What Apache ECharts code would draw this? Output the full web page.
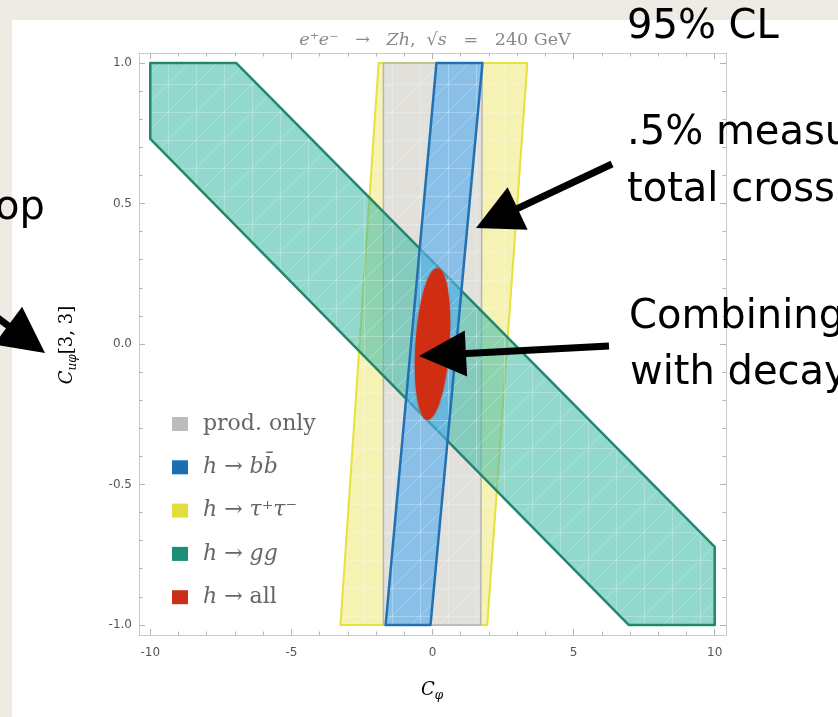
<!DOCTYPE html>
<html>
<head>
<meta charset="utf-8">
<script src="https://cdn.jsdelivr.net/npm/echarts@6/dist/echarts.min.js"></script>
<style>
  html, body { margin: 0; padding: 0; background: #fff; }
  #chart { width: 838px; height: 717px; }
</style>
</head>
<body>
<div id="chart"></div>
<script>
// Tick positions
const xMajorTicks = [-10, -5, 0, 5, 10];
const xMinorTicks = [-10, -9, -8, -7, -6, -5, -4, -3, -2, -1, 0, 1, 2, 3, 4, 5, 6, 7, 8, 9, 10];
const yMajorTicks = [-1.0, -0.5, 0.0, 0.5, 1.0];
const yMinorTicks = [-1.0, -0.9, -0.8, -0.7, -0.6, -0.5, -0.4, -0.3, -0.2, -0.1, 0.0,
                     0.1, 0.2, 0.3, 0.4, 0.5, 0.6, 0.7, 0.8, 0.9, 1.0];

// 95% CL regions in the (C_phi, C_uphi[3,3]) plane, vertices as [C_phi, C_uphi]
const prodOnly = [[-1.74, 1.0], [1.76, 1.0], [1.71, -1.0], [-1.74, -1.0]];
const hTauTau  = [[-1.91, 1.0], [3.36, 1.0], [1.94, -1.0], [-3.26, -1.0]];
const hBB      = [[0.14, 1.0], [1.77, 1.0], [-0.07, -1.0], [-1.66, -1.0]];
const hGG      = [[-10.0, 1.0], [-6.95, 1.0], [10.0, -0.722], [10.0, -1.0], [6.95, -1.0], [-10.0, 0.73]];
// combined fit: centre C_phi, centre C_uphi, half-width in C_phi, half-height in C_uphi, major-axis slope dC_phi/dC_uphi
const hAll     = [[0.0, 0.0, 0.6, 0.27, 0.66]];

const legendNames = ['prod. only', 'h → bb̄', 'h → τ⁺τ⁻', 'h → gg', 'h → all'];

const chart = echarts.init(document.getElementById('chart'), null, { renderer: 'canvas' });

const serif = '"DejaVu Serif", "Liberation Serif", serif';
const sans = '"DejaVu Sans", "Liberation Sans", sans-serif';
const frameColor = '#cacaca';
const tickColor = '#b4b4b4';

// Region fill: translucent base colour with the faint white triangulation mesh of the plotted regions
function meshFill(base) {
  const s = 28;
  const cv = document.createElement('canvas');
  cv.width = s; cv.height = s;
  const g = cv.getContext('2d');
  g.fillStyle = base;
  g.fillRect(0, 0, s, s);
  g.strokeStyle = 'rgba(255,255,255,0.24)';
  g.lineWidth = 1;
  g.beginPath();
  g.moveTo(0, s); g.lineTo(s, 0);
  g.moveTo(0, 0.5); g.lineTo(s, 0.5);
  g.moveTo(0.5, 0); g.lineTo(0.5, s);
  g.stroke();
  return { image: cv, repeat: 'repeat' };
}

function regionSeries(name, vertices, fill, stroke, lineWidth, swatch, z) {
  const pattern = meshFill(fill);
  return {
    type: 'custom',
    name: name,
    coordinateSystem: 'cartesian2d',
    xAxisIndex: 0,
    yAxisIndex: 0,
    z: z,
    silent: true,
    itemStyle: { color: swatch },
    encode: { x: 0, y: 1 },
    data: vertices,
    renderItem: function (params, api) {
      if (params.dataIndex !== 0) return null;
      return {
        type: 'polygon',
        shape: { points: vertices.map(function (v) { return api.coord(v); }) },
        style: { fill: pattern, stroke: stroke, lineWidth: lineWidth, lineJoin: 'round' }
      };
    }
  };
}

function ellipseSeries(name, data, fill, swatch, z) {
  return {
    type: 'custom',
    name: name,
    coordinateSystem: 'cartesian2d',
    xAxisIndex: 0,
    yAxisIndex: 0,
    z: z,
    silent: true,
    itemStyle: { color: swatch },
    encode: { x: 0, y: 1 },
    data: data,
    renderItem: function (params, api) {
      const c = api.coord([api.value(0), api.value(1)]);
      const r = api.size([api.value(2), api.value(3)]);
      const t = api.size([api.value(4), 1]);
      const ang = Math.atan2(t[0], t[1]);
      return {
        type: 'ellipse',
        x: c[0], y: c[1],
        rotation: -ang,
        shape: { cx: 0, cy: 0, rx: r[0], ry: r[1] },
        style: { fill: fill, shadowBlur: 2, shadowColor: fill }
      };
    }
  };
}

function valueAxis(position, ticks, tickLen, withLabels, showLine, isX) {
  const ax = {
    type: 'value',
    position: position,
    min: isX ? -10.4 : -1.036,
    max: isX ? 10.4 : 1.036,
    axisLine: { show: showLine, onZero: false, lineStyle: { color: frameColor, width: 1 } },
    axisTick: { show: true, inside: true, length: tickLen, customValues: ticks,
                lineStyle: { color: tickColor, width: 1 } },
    axisLabel: { show: withLabels },
    splitLine: { show: false },
    minorTick: { show: false }
  };
  if (withLabels) {
    ax.axisLabel = {
      show: true,
      customValues: ticks,
      color: '#555',
      fontFamily: sans,
      fontSize: 12,
      margin: isX ? 12 : 7,
      formatter: function (v) { return isX ? String(v) : v.toFixed(1); }
    };
  }
  return ax;
}

function arrow(tail, tip, headLen, headWidth) {
  const dx = tip[0] - tail[0], dy = tip[1] - tail[1];
  const L = Math.hypot(dx, dy);
  const ux = dx / L, uy = dy / L, px = -uy, py = ux;
  const bx = tip[0] - ux * headLen, by = tip[1] - uy * headLen;
  return [
    { type: 'line', z: 100,
      shape: { x1: tail[0], y1: tail[1], x2: bx + ux * 4, y2: by + uy * 4 },
      style: { stroke: '#000', lineWidth: 7 } },
    { type: 'polygon', z: 100,
      shape: { points: [tip, [bx + px * headWidth / 2, by + py * headWidth / 2],
                             [bx - px * headWidth / 2, by - py * headWidth / 2]] },
      style: { fill: '#000' } }
  ];
}

function slideText(str, x, y) {
  return { type: 'text', x: x, y: y, z: 100,
           style: { text: str, font: '40px "DejaVu Sans", sans-serif', fill: '#000',
                    align: 'left', verticalAlign: 'middle' } };
}

const legendRich = {
  n: { fontFamily: serif, fontSize: 22, fontWeight: 'normal', color: '#666' },
  i: { fontFamily: serif, fontSize: 22, fontWeight: 'normal', fontStyle: 'italic', color: '#666' }
};
const legendLabels = {
  'prod. only': '{n|prod. only}',
  'h → bb̄': '{i|h}{n| → }{i|bb̄}',
  'h → τ⁺τ⁻': '{i|h}{n| → }{i|τ⁺τ⁻}',
  'h → gg': '{i|h}{n| → }{i|gg}',
  'h → all': '{i|h}{n| → all}'
};
const swatches = ['#bcbcbc', '#1b6eb0', '#e2df3c', '#1a8f78', '#c9301a'];

const option = {
  backgroundColor: '#ffffff',
  animation: false,
  title: {
    text: '{i|e}{n|⁺}{i|e}{n|⁻   →   }{i|Zh}{n|,  √}{i|s}{n|   =   240 GeV}',
    left: 430,
    top: 26,
    textAlign: 'center',
    textStyle: {
      fontWeight: 'normal',
      rich: {
        n: { fontFamily: serif, fontSize: 17.5, fontWeight: 'normal', color: '#888' },
        i: { fontFamily: serif, fontSize: 17.5, fontWeight: 'normal', fontStyle: 'italic', color: '#888' }
      }
    }
  },
  grid: { left: 139, top: 53, width: 587, height: 582, show: false },
  xAxis: [
    valueAxis('bottom', xMajorTicks, 6, true, true, true),
    valueAxis('bottom', xMinorTicks, 3.5, false, false, true),
    valueAxis('top', xMajorTicks, 6, false, true, true),
    valueAxis('top', xMinorTicks, 3.5, false, false, true)
  ],
  yAxis: [
    valueAxis('left', yMajorTicks, 6, true, true, false),
    valueAxis('left', yMinorTicks, 3.5, false, false, false),
    valueAxis('right', yMajorTicks, 6, false, true, false),
    valueAxis('right', yMinorTicks, 3.5, false, false, false)
  ],
  legend: {
    orient: 'vertical',
    left: 167,
    top: 408,
    itemWidth: 16,
    itemHeight: 14,
    itemGap: 21.3,
    icon: 'rect',
    selectedMode: false,
    data: legendNames.map(function (n, k) { return { name: n, itemStyle: { color: swatches[k] } }; }),
    formatter: function (name) { return legendLabels[name]; },
    textStyle: { fontFamily: serif, fontSize: 22, color: '#666',
                 padding: [0, 0, 0, 10], rich: legendRich }
  },
  series: [
    regionSeries(legendNames[2], hTauTau, 'rgba(238,230,105,0.5)', 'rgba(230,224,50,0.95)', 2, swatches[2], 1),
    regionSeries(legendNames[0], prodOnly, 'rgba(222,222,221,0.92)', 'rgba(175,175,175,0.9)', 1.5, swatches[0], 2),
    regionSeries(legendNames[3], hGG, 'rgba(68,188,168,0.58)', '#23876f', 2.5, swatches[3], 3),
    regionSeries(legendNames[1], hBB, 'rgba(84,172,240,0.62)', '#2271b4', 2.5, swatches[1], 4),
    ellipseSeries(legendNames[4], hAll, '#d02e12', swatches[4], 5)
  ],
  graphic: {
    elements: [
      { type: 'rect', z: -10, shape: { x: 0, y: 0, width: 838, height: 20 }, style: { fill: '#eeebe5' } },
      { type: 'rect', z: -10, shape: { x: 0, y: 0, width: 12, height: 717 }, style: { fill: '#eeebe5' } },
      { type: 'text', x: 67, y: 345, rotation: Math.PI / 2, z: 10,
        style: { text: '{c|C}{s|uφ}{n|[3, 3]}', align: 'center', verticalAlign: 'middle',
                 rich: {
                   c: { fontFamily: serif, fontSize: 18, fontStyle: 'italic', color: '#777', lineHeight: 24 },
                   s: { fontFamily: serif, fontSize: 12, fontStyle: 'italic', color: '#777', lineHeight: 12, verticalAlign: 'bottom' },
                   n: { fontFamily: serif, fontSize: 18, color: '#777', lineHeight: 24 }
                 } } },
      { type: 'text', x: 432, y: 690, z: 10,
        style: { text: '{c|C}{s|φ}', align: 'center', verticalAlign: 'middle',
                 rich: {
                   c: { fontFamily: serif, fontSize: 18, fontStyle: 'italic', color: '#777', lineHeight: 24 },
                   s: { fontFamily: serif, fontSize: 12, fontStyle: 'italic', color: '#777', lineHeight: 12, verticalAlign: 'bottom' }
                 } } },
      slideText('95% CL', 627, 28),
      slideText('.5% measu', 627, 134),
      slideText('total cross', 627, 191),
      slideText('Combining', 629, 318),
      slideText('with decay', 630, 374),
      slideText('op', -5, 209)
    ]
      .concat(arrow([-60, 275], [45, 353], 46, 47))
      .concat(arrow([612, 164], [476, 228], 46, 47))
      .concat(arrow([609, 346], [419, 356], 47, 46))
  }
};

chart.setOption(option);
</script>
</body>
</html>
